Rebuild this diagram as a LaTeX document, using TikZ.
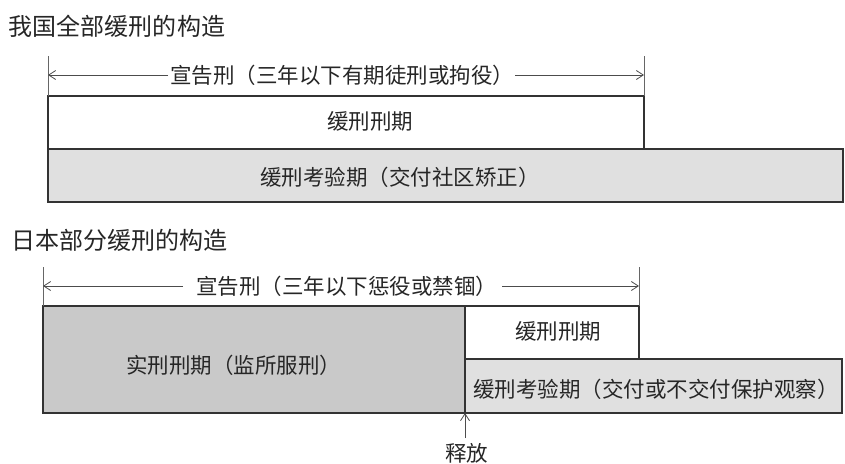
\documentclass[tikz,border=0pt]{standalone}
\usepackage{fontspec}
\newfontfamily\cjk{Noto Sans CJK SC}
\usetikzlibrary{arrows.meta}
\begin{document}
\begin{tikzpicture}[x=1pt,y=-1pt,
  every node/.style={font=\cjk\fontsize{21.5}{22}\selectfont, text=black!85, inner sep=0pt, outer sep=0pt},
  lbl/.style={anchor=west},
  box/.style={draw=black!80, line width=2pt, anchor=north west, inner sep=0pt, outer sep=0pt},
  tickline/.style={draw=black!60, line width=0.7pt},
  dimline/.style={draw=black!70, line width=0.8pt, -{Straight Barb[length=7pt,width=9pt]}},
  title/.style={font=\cjk\fontsize{24}{24}\selectfont, anchor=west}]
\useasboundingbox (0,0) rectangle (845,463);

% ---------- first structure ----------
\node[title] (t1) at (9,26) {我国全部缓刑的构造};

\node[box, fill=white, minimum width=596pt, minimum height=53pt] (b1) at (48,96) {};
\node[box, fill=black!12, minimum width=795pt, minimum height=53pt] (b2) at (48,149) {};

\coordinate (k1a) at (48,56);
\coordinate (k1b) at (644,56);
\draw[tickline] (k1a) -- (b1.north west);
\draw[tickline] (k1b) -- (b1.north east);

\node[lbl] (d1) at (170,75) {宣告刑（三年以下有期徒刑或拘役）};
\coordinate (d1l) at (48,75);
\coordinate (d1r) at (644,75);
\draw[dimline] (d1.west) ++(-2,0) -- (d1l);
\draw[dimline] (d1.east) ++(1,0) -- (d1r);

\node[lbl] (l1) at (327,121) {缓刑刑期};
\node[lbl] (l2) at (260,177) {缓刑考验期（交付社区矫正）};

% ---------- second structure ----------
\node[title] (t2) at (11,240) {日本部分缓刑的构造};

\node[box, fill=black!21, minimum width=422pt, minimum height=107pt] (j1) at (43,306) {};
\node[box, fill=white, minimum width=174pt, minimum height=53pt] (j2) at (465,306) {};
\node[box, fill=black!12, minimum width=377pt, minimum height=54pt] (j3) at (465,359) {};

\coordinate (k2a) at (43,267);
\coordinate (k2b) at (639,267);
\draw[tickline] (k2a) -- (j1.north west);
\draw[tickline] (k2b) -- (j2.north east);

\node[lbl] (d2) at (196,286) {宣告刑（三年以下惩役或禁锢）};
\coordinate (d2l) at (43,286);
\coordinate (d2r) at (639,286);
\coordinate (d2s) at (183,286);
\coordinate (d2e) at (502,286);
\draw[dimline] (d2s) -- (d2l);
\draw[dimline] (d2e) -- (d2r);

\node[lbl] (l3) at (126,365) {实刑刑期（监所服刑）};
\node[lbl] (l4) at (515,331) {缓刑刑期};
\node[lbl] (l5) at (473,389) {缓刑考验期（交付或不交付保护观察）};

\node[lbl] (rel) at (445,453) {释放};
\coordinate (relt) at (465,438);
\draw[dimline] (relt) -- (j1.south east);
\end{tikzpicture}
\end{document}
